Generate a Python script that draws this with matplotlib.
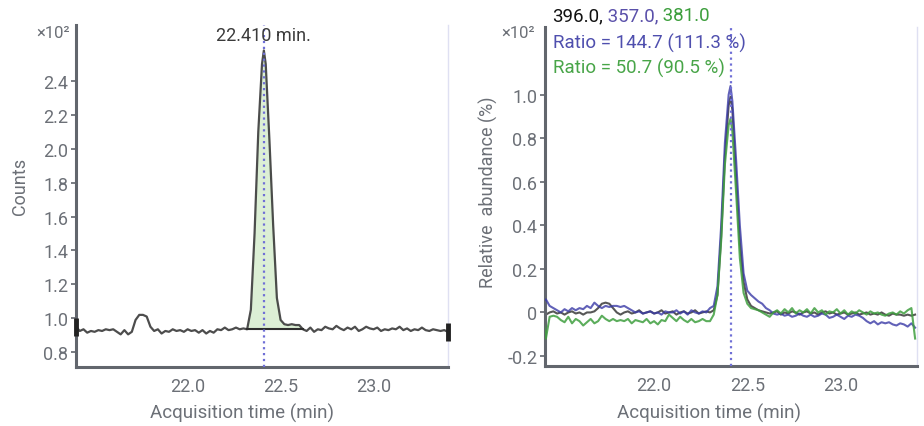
import numpy as np
import matplotlib
matplotlib.use('Agg')
import matplotlib.pyplot as plt

plt.rcParams['font.family'] = ['Roboto', 'DejaVu Sans']

# acquisition times (min), shared by all traces
times = [21.40, 21.42, 21.44, 21.46, 21.48, 21.50, 21.52, 21.54, 21.56, 21.58,
         21.60, 21.62, 21.64, 21.66, 21.68, 21.70, 21.72, 21.74, 21.76, 21.78,
         21.80, 21.82, 21.84, 21.86, 21.88, 21.90, 21.92, 21.94, 21.96, 21.98,
         22.00, 22.02, 22.04, 22.06, 22.08, 22.10, 22.12, 22.14, 22.16, 22.18,
         22.20, 22.22, 22.24, 22.26, 22.28, 22.30, 22.32, 22.34, 22.36, 22.38,
         22.40, 22.41,
         22.42, 22.44, 22.46, 22.48, 22.50, 22.52, 22.54, 22.56, 22.58,
         22.60, 22.62, 22.64, 22.66, 22.68, 22.70, 22.72, 22.74, 22.76, 22.78,
         22.80, 22.82, 22.84, 22.86, 22.88, 22.90, 22.92, 22.94, 22.96, 22.98,
         23.00, 23.02, 23.04, 23.06, 23.08, 23.10, 23.12, 23.14, 23.16, 23.18,
         23.20, 23.22, 23.24, 23.26, 23.28, 23.30, 23.32, 23.34, 23.36, 23.38,
         23.40]

# left panel: counts (x10^2)
counts = [0.95, 0.925, 0.935, 0.915, 0.925, 0.92, 0.93, 0.925, 0.935, 0.93,
          0.935, 0.92, 0.905, 0.93, 0.905, 0.92, 0.99, 1.02, 1.02, 1.01,
          0.95, 0.925, 0.935, 0.91, 0.925, 0.92, 0.935, 0.925, 0.93, 0.92,
          0.935, 0.925, 0.93, 0.915, 0.93, 0.91, 0.925, 0.915, 0.935, 0.93,
          0.945, 0.93, 0.935, 0.945, 0.935, 0.94, 0.935, 1.05, 1.50, 2.10,
          2.50, 2.58,
          2.50, 2.05, 1.55, 1.12, 0.99, 0.965, 0.96, 0.965, 0.96,
          0.96, 0.935, 0.925, 0.945, 0.92, 0.935, 0.93, 0.95, 0.94, 0.935,
          0.955, 0.94, 0.93, 0.945, 0.935, 0.95, 0.925, 0.935, 0.95, 0.94,
          0.935, 0.945, 0.925, 0.935, 0.93, 0.94, 0.935, 0.95, 0.93, 0.94,
          0.925, 0.935, 0.93, 0.945, 0.93, 0.925, 0.935, 0.93, 0.925, 0.93,
          0.92]

peak_rt = 22.41
peak_start = 22.32
peak_end = 22.62
peak_base = 0.935

# right panel: relative abundance (x10^2 %)
ion_396 = [0.0, -0.01, 0.0, 0.005, -0.005, 0.0, -0.01, 0.0, 0.005, -0.005,
           0.0, -0.01, 0.0, 0.0, 0.005, 0.02, 0.04, 0.045, 0.04, 0.02,
           0.0, -0.01, 0.0, 0.005, -0.005, 0.0, 0.01, -0.005, 0.0, 0.005,
           -0.005, 0.0, 0.01, -0.005, 0.0, 0.005, -0.01, 0.0, 0.005, -0.005,
           0.0, 0.01, -0.005, 0.0, 0.005, 0.0, 0.01, 0.08, 0.35, 0.72,
           0.95, 0.99,
           0.93, 0.62, 0.32, 0.14, 0.06, 0.03, 0.02, 0.01, 0.005,
           0.0, -0.005, 0.0, 0.005, -0.01, 0.0, -0.005, 0.005, 0.0, -0.01,
           0.0, 0.005, -0.005, 0.0, -0.01, 0.0, 0.005, -0.005, 0.0, -0.01,
           -0.005, 0.0, -0.01, -0.005, 0.0, -0.01, -0.005, 0.0, -0.01, -0.005,
           -0.01, 0.0, -0.01, -0.015, -0.005, -0.01, -0.01, -0.015, -0.01, -0.015,
           -0.01]

ion_357 = [0.05, 0.06, 0.03, 0.02, 0.01, 0.0, 0.015, 0.005, 0.02, 0.01,
           0.02, 0.015, 0.03, 0.02, 0.045, 0.03, 0.02, 0.03, 0.025, 0.03,
           0.03, 0.025, 0.03, 0.02, 0.01, 0.0, 0.005, -0.005, 0.0, 0.005,
           -0.005, 0.0, -0.01, 0.005, 0.0, 0.0, 0.01, -0.005, 0.005, -0.01,
           0.01, 0.0, -0.005, 0.005, 0.0, 0.02, 0.03, 0.12, 0.40, 0.78,
           1.00, 1.04,
           0.97, 0.70, 0.40, 0.18, 0.10, 0.08, 0.065, 0.05, 0.04,
           0.02, 0.01, -0.005, -0.01, -0.005, -0.015, -0.01, -0.02, -0.015, -0.005,
           -0.015, -0.02, -0.01, -0.02, -0.015, -0.005, -0.01, -0.025, -0.02, -0.01,
           -0.02, -0.03, -0.015, -0.02, -0.01, -0.015, -0.025, -0.04, -0.05, -0.04,
           -0.055, -0.045, -0.05, -0.045, -0.055, -0.06, -0.05, -0.055, -0.065, -0.05,
           -0.07]

ion_381 = [0.02, -0.12, -0.02, -0.015, -0.02, -0.035, -0.045, -0.02, -0.05, -0.03,
           -0.04, -0.06, -0.045, -0.03, -0.05, -0.04, -0.015, -0.03, -0.04, -0.03,
           -0.04, -0.035, -0.04, -0.03, -0.05, -0.035, -0.04, -0.045, -0.03, -0.05,
           -0.04, -0.055, -0.035, -0.04, -0.01, -0.025, -0.04, -0.02, -0.035, -0.045,
           -0.03, -0.045, -0.04, -0.03, -0.04, -0.04, -0.01, 0.08, 0.33, 0.68,
           0.86, 0.89,
           0.83, 0.55, 0.25, 0.09, 0.04, 0.02, 0.015, 0.01, 0.0,
           -0.01, -0.02, 0.0, 0.01, -0.005, 0.015, 0.0, 0.02, -0.005, 0.01,
           0.0, 0.015, -0.005, 0.02, 0.0, 0.01, -0.01, 0.005, 0.0, 0.015,
           -0.005, 0.01, -0.01, 0.005, -0.005, 0.01, 0.0, -0.01, 0.005, -0.005,
           0.0, -0.01, -0.015, -0.005, 0.0, -0.01, 0.005, -0.005, 0.01, 0.02,
           -0.12]

x_ticks = [22.0, 22.5, 23.0]
x_labels = ['22.0', '22.5', '23.0']
left_yticks = [0.8, 1.0, 1.2, 1.4, 1.6, 1.8, 2.0, 2.2, 2.4]
left_ylabels = ['0.8', '1.0', '1.2', '1.4', '1.6', '1.8', '2.0', '2.2', '2.4']
right_yticks = [-0.2, 0.0, 0.2, 0.4, 0.6, 0.8, 1.0]
right_ylabels = ['-0.2', '0', '0.2', '0.4', '0.6', '0.8', '1.0']

ion_names = ['396.0', '357.0', '381.0']
ratio_texts = ['Ratio = 144.7 (111.3 %)', 'Ratio = 50.7 (90.5 %)']

GREY = '#6c7077'
SPINE = '#62666d'
C_BLACK = '#3a3a3a'
C_BLUE = '#3a3aa6'
C_GREEN = '#3f9f3f'
DOT = '#6f6fd6'


def style_axes(ax):
    ax.spines['top'].set_visible(False)
    ax.spines['left'].set_color(SPINE)
    ax.spines['left'].set_linewidth(2.2)
    ax.spines['bottom'].set_color(SPINE)
    ax.spines['bottom'].set_linewidth(2.2)
    ax.spines['right'].set_color('#dfe0f2')
    ax.spines['right'].set_linewidth(1.0)
    ax.tick_params(axis='x', length=0, pad=7, labelsize=13, colors=GREY)
    ax.tick_params(axis='y', length=3.5, width=1.2, pad=2, labelsize=13,
                   colors=GREY, color=SPINE)
    ax.set_xticks(x_ticks)
    ax.set_xticklabels(x_labels)


t = np.array(times)
c = np.array(counts)

fig = plt.figure(figsize=(9.24, 4.27), dpi=100)
ax1 = fig.add_axes([0.0823, 0.138, 0.4025, 0.801])
ax2 = fig.add_axes([0.5898, 0.1405, 0.4026, 0.7935])

# ---- left panel
style_axes(ax1)
ax1.set_xlim(21.40, 23.40)
ax1.set_ylim(0.712, 2.73)
ax1.set_yticks(left_yticks)
ax1.set_yticklabels(left_ylabels)

mask = (t >= peak_start) & (t <= peak_end)
ax1.fill_between(t[mask], c[mask], peak_base, color='#dcefd5', lw=0, zorder=1)
ax1.plot([peak_start, peak_end], [peak_base, peak_base], color='#2e2e2e', lw=1.5, zorder=3)
ax1.plot(t, c, color=C_BLACK, lw=1.6, alpha=0.9, zorder=2)
ax1.plot([t[0], t[-1]], [c[0], c[-1]], ls='none', marker='|', ms=13, mew=3.5,
         color='#222222', clip_on=False, zorder=4)
ax1.axvline(peak_rt, color=DOT, ls=':', lw=1.6, zorder=3)
ax1.annotate('22.410 min.', xy=(peak_rt, max(counts)), xytext=(0, 5),
             textcoords='offset points', ha='center', va='bottom',
             fontsize=13, color='#3b3b3b')

ax1.set_ylabel('Counts', fontsize=13, color=GREY)
ax1.yaxis.set_label_coords(-0.126, 0.53)
ax1.set_xlabel('Acquisition time (min)', fontsize=13.5, color=GREY)
ax1.xaxis.set_label_coords(0.446, -0.105)
fig.text(70 / 924, 1 - 33 / 427, '×10²', ha='right', va='center',
         fontsize=12, color=GREY)

# ---- right panel
style_axes(ax2)
ax2.set_xlim(21.415, 23.41)
ax2.set_ylim(-0.246, 1.31)
ax2.set_yticks(right_yticks)
ax2.set_yticklabels(right_ylabels)

ax2.plot(t, ion_396, color=C_BLACK, lw=1.5, alpha=0.85, zorder=2)
ax2.plot(t, ion_357, color=C_BLUE, lw=1.5, alpha=0.8, zorder=3)
ax2.plot(t, ion_381, color=C_GREEN, lw=1.5, alpha=0.85, zorder=4)
ax2.axvline(peak_rt, color=DOT, ls=':', lw=1.6, zorder=5)

ax2.set_ylabel('Relative  abundance (%)', fontsize=13, color=GREY)
ax2.yaxis.set_label_coords(-0.126, 0.515)
ax2.set_xlabel('Acquisition time (min)', fontsize=13.5, color=GREY)
ax2.xaxis.set_label_coords(0.441, -0.109)
fig.text(535 / 924, 1 - 33 / 427, '×10²', ha='right', va='center',
         fontsize=12, color=GREY)

# ion header with coloured parts
t1 = fig.text(552 / 924, 1 - 16 / 427, ion_names[0] + ',', ha='left', va='center',
              fontsize=13.5, color='#111111')
t2 = ax2.annotate(' ' + ion_names[1] + ',', xy=(1, 0), xycoords=t1, ha='left', va='bottom',
                  fontsize=13.5, color='#5a50aa')
ax2.annotate(' ' + ion_names[2], xy=(1, 0), xycoords=t2, ha='left', va='bottom',
             fontsize=13.5, color='#3c9e3c')

fig.text(553 / 924, 1 - 43 / 427, ratio_texts[0], ha='left', va='center',
         fontsize=13.5, color='#4f4fae')
fig.text(553 / 924, 1 - 68 / 427, ratio_texts[1], ha='left', va='center',
         fontsize=13.5, color='#48a548')

fig.savefig('out.png', dpi=100)
